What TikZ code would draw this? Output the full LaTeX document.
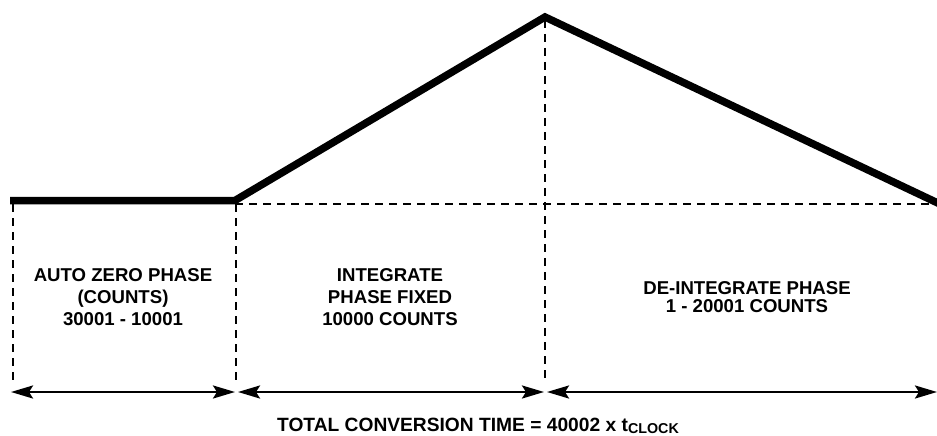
\documentclass[tikz,border=0pt]{standalone}
\usepackage{fontspec}
\setmainfont{Liberation Sans}
\usetikzlibrary{arrows.meta}
\tikzset{
  signal/.style={line width=7.5pt, line join=miter, line cap=butt},
  guide/.style={line width=1.6pt, dash pattern=on 8pt off 6pt},
  tipshape/.tip={Stealth[length=22pt,width=13pt,inset=4pt]},
  span/.style={line width=2.6pt, arrows={tipshape-tipshape}},
  lbl/.style={font=\fontsize{18.6}{21.7}\selectfont\bfseries, align=center, inner sep=0pt}
}
\begin{document}
\begin{tikzpicture}[x=1pt,y=-1pt]
\useasboundingbox (0,0) rectangle (937,436);
% signal points
\coordinate (s0) at (10,200.5);
\coordinate (s1) at (235,200.5);
\coordinate (pk) at (545,17);
\coordinate (s3) at (942,205);
\draw[signal] (s0) -- (s1) -- (pk) -- (s3);
% guides
\coordinate (h0) at (235,204);
\coordinate (h1) at (937,204);
\draw[guide] (h0) -- (h1);
\coordinate (v0t) at (13,204);   \coordinate (v0b) at (13,382);
\coordinate (v1t) at (236,204);  \coordinate (v1b) at (236,382);
\coordinate (v2t) at (545,20);   \coordinate (v2b) at (545,382);
\draw[guide] (v0t) -- (v0b);
\draw[guide] (v1t) -- (v1b);
\draw[guide] (v2t) -- (v2b);
% spans
\coordinate (a0) at (11,392);  \coordinate (a1) at (235,392);
\coordinate (b0) at (238,392); \coordinate (b1) at (544,392);
\coordinate (c0) at (547,392); \coordinate (c1) at (937,392);
\draw[span] (a0) -- (a1);
\draw[span] (b0) -- (b1);
\draw[span] (c0) -- (c1);
% labels
\node[lbl] (az) at (123,297) {AUTO ZERO PHASE\\(COUNTS)\\30001 - 10001};
\node[lbl] (ig) at (390,297) {INTEGRATE\\PHASE FIXED\\10000 COUNTS};
\node[lbl, font=\fontsize{18.6}{18}\selectfont\bfseries] (di) at (747,297) {DE-INTEGRATE PHASE\\1 - 20001 COUNTS};
\node[lbl, font=\fontsize{19.2}{20}\selectfont\bfseries, anchor=base] (tt) at (478,431.5) {TOTAL CONVERSION TIME = 40002 x t\raisebox{-0.18ex}{\fontsize{14.3}{14}\selectfont CLOCK}};
\end{tikzpicture}
\end{document}
